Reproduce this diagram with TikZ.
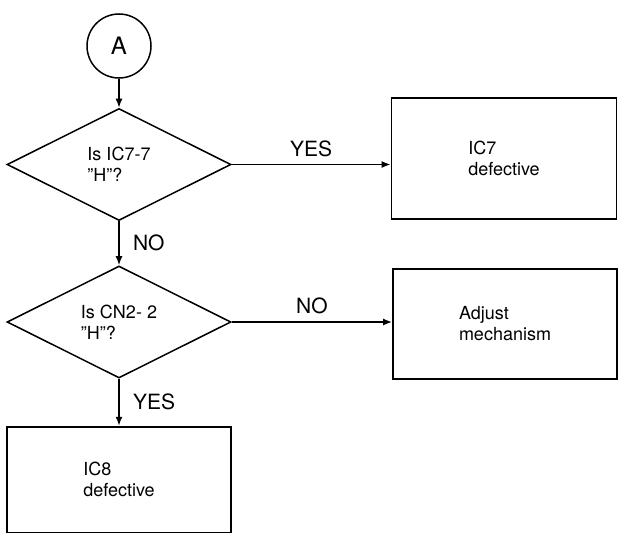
\documentclass[tikz,border=0pt]{standalone}
\usepackage{fontspec}
\setmainfont{TeX Gyre Heros}
\usetikzlibrary{shapes.geometric, arrows.meta, positioning}

\begin{document}
\begin{tikzpicture}[
    x=1pt, y=-1pt,
    node distance=44pt,
    connector/.style={draw, circle, line width=1.5pt, minimum size=64pt, inner sep=0pt, font=\fontsize{24}{28}\selectfont},
    decision/.style={draw, diamond, line width=1.5pt, minimum width=224pt, minimum height=112pt, inner sep=0pt, align=left, font=\fontsize{18}{21}\selectfont},
    action/.style={draw, rectangle, line width=1.8pt, minimum width=224pt, minimum height=108pt, align=left, font=\fontsize{18}{21}\selectfont},
    answer/.style={font=\fontsize{21}{24}\selectfont},
    arrow/.style={-{Latex[length=9pt, width=7pt]}, line width=1.5pt}
]
\useasboundingbox (0,0) rectangle (620,532);

% Connector and decisions
\node[connector] (start) at (119,46) {A};
\node[decision, below=29pt of start] (chkic) {Is IC7-7\\''H''?};
\node[decision, below=44pt of chkic] (chkcn) {Is CN2- 2\\''H''?};

% Outcomes
\node[action, below=47pt of chkcn, minimum height=106pt] (icviii) {IC8\\defective};
\node[action, minimum width=225pt, minimum height=121pt] (icvii) at ([xshift=385pt, yshift=6pt]chkic.center) {IC7\\defective};
\node[action, minimum height=110pt] (adjust) at ([xshift=386pt, yshift=-2pt]chkcn.center) {Adjust\\mechanism};

% Arrows
\draw[arrow] (start) -- (chkic);
\draw[arrow] (chkic) -- node[answer, right=10pt] {NO} (chkcn);
\draw[arrow] (chkcn) -- node[answer, right=10pt] {YES} (icviii);
\draw[arrow] (chkic.east) -- node[answer, above=4pt] {YES} (chkic.east -| icvii.west);
\draw[arrow] (chkcn.east) -- node[answer, above=4pt] {NO} (chkcn.east -| adjust.west);

\end{tikzpicture}
\end{document}
